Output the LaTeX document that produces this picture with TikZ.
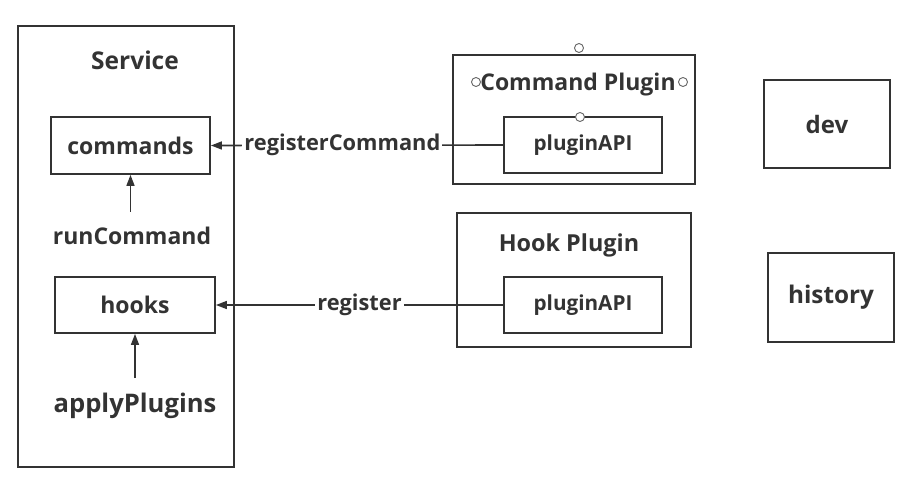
\documentclass[tikz,border=0pt]{standalone}
\usepackage{fontspec}
\setmainfont{Open Sans}
\usepackage{tikz}
\usetikzlibrary{positioning}
\usetikzlibrary{arrows.meta,calc}

\definecolor{ink}{HTML}{333333}
\tikzset{
  box/.style={draw=ink,line width=1.8pt,inner sep=0pt},
  lbl/.style={text=ink,font=\fontsize{#1}{#1}\selectfont\bfseries,inner sep=1pt},
  lbl/.default=23,
  arr/.style={draw=ink,line width=1.6pt,-{Triangle[length=11pt,width=8pt]}},
  handle/.style={draw=ink!75,fill=white,line width=0.9pt}
}

\begin{document}
\begin{tikzpicture}[x=1pt,y=-1pt]
\useasboundingbox (0,0) rectangle (922,498);

% service side
\node[box,minimum width=216pt,minimum height=441pt] (service) at (126,246.5) {};
\node[lbl=24.5] (servicet) at (135,60) {Service};
\node[box,minimum width=159pt,minimum height=57pt,lbl] (commands) at (130.5,145.5) {commands};
\node[lbl] (runcmd) at (132,236) {runCommand};
\node[box,minimum width=160pt,minimum height=56pt,lbl] (hooks) at (135,305) {hooks};
\node[lbl=25.6] (applyp) at (135,406) {applyPlugins};

% plugins
\node[box,minimum width=242pt,minimum height=129pt] (cplugin) at (574,119.5) {};
\node[lbl] (cplugint) at (578,85) {Command Plugin};
\node[box,minimum width=158pt,minimum height=56pt,lbl=20.7] (cpapi) at (583,145) {pluginAPI};
\node[box,minimum width=234pt,minimum height=134pt] (hplugin) at (574,280) {};
\node[lbl=23.4] (hplugint) at (569,245) {Hook Plugin};
\node[box,minimum width=158pt,minimum height=56pt,lbl=20.7] (hpapi) at (583,305) {pluginAPI};

% commands
\node[box,minimum width=126pt,minimum height=88pt,lbl=24] (dev) at (827,124) {dev};
\node[box,minimum width=126pt,minimum height=89pt,lbl=24.3] (history) at (831,297.5) {history};

\draw[arr] (cpapi.west) -- (commands.east)
  node[lbl=21.8,pos=0.55,fill=white,inner sep=2pt]{registerCommand};
\draw[arr] (hpapi.west) -- (hooks.east)
  node[lbl=21.8,pos=0.5,fill=white,inner sep=2pt]{register};
\draw[arr,shorten <=14pt] (runcmd.north -| commands.south) -- (commands.south);
\draw[arr,shorten <=14pt] (applyp.north -| hooks.south) -- (hooks.south);

% selection handles
\foreach \p in {(579,48),(476,82),(683,82),(580,117)}
  \draw[handle] \p circle (4.5pt);
\end{tikzpicture}
\end{document}
